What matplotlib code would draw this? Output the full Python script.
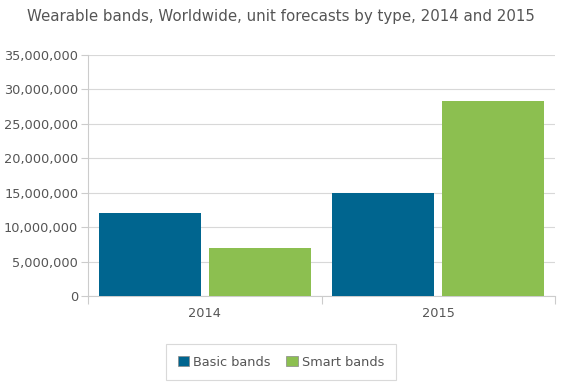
import matplotlib.pyplot as plt
import numpy as np

years = ["2014", "2015"]
basic_bands = [12000000, 15000000]
smart_bands = [7000000, 28300000]
y_ticks = [0, 5000000, 10000000, 15000000, 20000000, 25000000, 30000000, 35000000]

basic_color = "#00658f"
smart_color = "#8cbf50"
text_color = "#555555"
line_color = "#cccccc"

fig = plt.figure(figsize=(5.62, 3.91), dpi=100)
ax = fig.add_axes([88 / 562, 1 - 296 / 391, (555 - 88) / 562, (296 - 55) / 391])

x = np.arange(len(years))
w = 0.437
gap = 0.034
ax.bar(x - w / 2 - gap / 2, basic_bands, width=w, color=basic_color, label="Basic bands", zorder=3)
ax.bar(x + w / 2 + gap / 2, smart_bands, width=w, color=smart_color, label="Smart bands", zorder=3)

ax.set_xlim(-0.5, 1.5)
ax.set_ylim(0, 35000000)
ax.set_yticks(y_ticks)
ax.set_yticklabels(["{:,}".format(v) for v in y_ticks])
ax.set_xticks(x)
ax.set_xticklabels(years)
ax.set_xticks([-0.5, 0.5, 1.5], minor=True)

ax.grid(axis="y", color="#d8d8d8", linewidth=0.8, zorder=0)
for s in ["top", "right"]:
    ax.spines[s].set_visible(False)
for s in ["left", "bottom"]:
    ax.spines[s].set_color(line_color)
    ax.spines[s].set_linewidth(0.8)

ax.tick_params(axis="y", colors=line_color, labelcolor=text_color, labelsize=9.3, length=5, width=0.8, pad=2)
ax.tick_params(axis="x", which="major", length=0, labelcolor=text_color, labelsize=9.3, pad=8)
ax.tick_params(axis="x", which="minor", length=6, color=line_color, width=0.8)

fig.text(0.5, 1 - 17 / 391, "Wearable bands, Worldwide, unit forecasts by type, 2014 and 2015",
         ha="center", va="center", fontsize=10.8, color=text_color)

leg = fig.legend(loc="center", bbox_to_anchor=(281 / 562, 1 - 362 / 391), ncol=2, frameon=True,
                 fontsize=9.3, handlelength=0.9, handleheight=0.9, handletextpad=0.3,
                 columnspacing=1.2, fancybox=False, borderpad=0.9)
leg.get_frame().set_edgecolor("#d0d0d0")
leg.get_frame().set_linewidth(0.8)
for t in leg.get_texts():
    t.set_color(text_color)
for h in leg.legend_handles:
    h.set_edgecolor("#888888")
    h.set_linewidth(0.5)

fig.savefig("out.png", dpi=100)
